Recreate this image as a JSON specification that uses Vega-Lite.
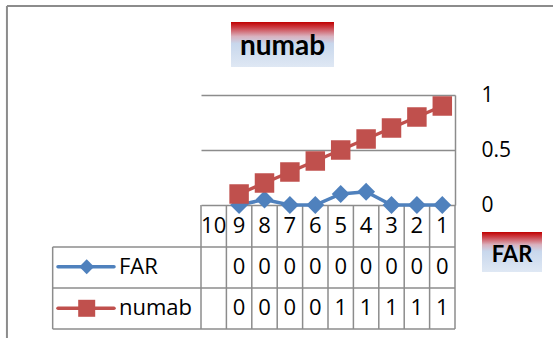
{
  "$schema": "https://vega.github.io/schema/vega-lite/v6.json",
  "width": 254,
  "height": 110,
  "autosize": {"type": "none"},
  "padding": {"left": 201, "top": 95, "right": 98, "bottom": 133},
  "background": "white",
  "config": {"view": {"stroke": null}, "font": "Open Sans"},
  "data": {"values": [{}]},
  "datasets": {
    "points": [
      {"cat": 9, "series": "FAR", "value": 0},
      {"cat": 8, "series": "FAR", "value": 0.05},
      {"cat": 7, "series": "FAR", "value": 0},
      {"cat": 6, "series": "FAR", "value": 0},
      {"cat": 5, "series": "FAR", "value": 0.1},
      {"cat": 4, "series": "FAR", "value": 0.12},
      {"cat": 3, "series": "FAR", "value": 0},
      {"cat": 2, "series": "FAR", "value": 0},
      {"cat": 1, "series": "FAR", "value": 0},
      {"cat": 9, "series": "numab", "value": 0.1},
      {"cat": 8, "series": "numab", "value": 0.2},
      {"cat": 7, "series": "numab", "value": 0.3},
      {"cat": 6, "series": "numab", "value": 0.4},
      {"cat": 5, "series": "numab", "value": 0.5},
      {"cat": 4, "series": "numab", "value": 0.6},
      {"cat": 3, "series": "numab", "value": 0.7},
      {"cat": 2, "series": "numab", "value": 0.8},
      {"cat": 1, "series": "numab", "value": 0.9}
    ],
    "categories": [
      {"cat": 10}, {"cat": 9}, {"cat": 8}, {"cat": 7}, {"cat": 6},
      {"cat": 5}, {"cat": 4}, {"cat": 3}, {"cat": 2}, {"cat": 1}
    ]
  },
  "resolve": {"axis": {"x": "independent", "y": "independent"}},
  "layer": [
    {
      "description": "Outer frame of the chart area: top and left edges",
      "mark": {"type": "rule", "color": "#8c8c8c", "strokeWidth": 2},
      "encoding": {
        "x": {"datum": 18.14, "axis": null},
        "x2": {"datum": -3.4},
        "y": {"datum": 1.809, "axis": null}
      }
    },
    {
      "mark": {"type": "rule", "color": "#8c8c8c", "strokeWidth": 2},
      "encoding": {
        "x": {"datum": 18.14, "axis": null},
        "y": {"datum": 1.809, "axis": null},
        "y2": {"datum": -1.25}
      }
    },
    {
      "description": "Chart title box with a red-to-blue gradient",
      "mark": {
        "type": "rect",
        "fill": {
          "gradient": "linear", "x1": 0, "y1": 0, "x2": 0, "y2": 1,
          "stops": [
            {"offset": 0, "color": "#c00000"},
            {"offset": 0.12, "color": "#cc3d44"},
            {"offset": 0.32, "color": "#d9b2bf"},
            {"offset": 0.48, "color": "#c8d7ec"},
            {"offset": 1, "color": "#dfe8f4"}
          ]
        }
      },
      "encoding": {
        "x": {"datum": 9.319, "axis": null},
        "x2": {"datum": 5.264},
        "y": {"datum": 1.6636, "axis": null},
        "y2": {"datum": 1.2545}
      }
    },
    {
      "mark": {"type": "text", "text": "numab", "font": "Lato", "fontWeight": "bold", "fontSize": 28, "align": "center", "baseline": "alphabetic", "color": "black"},
      "encoding": {
        "x": {"datum": 7.291, "axis": null},
        "y": {"datum": 1.3636, "axis": null}
      }
    },
    {
      "description": "Axis title box for the secondary axis",
      "mark": {
        "type": "rect",
        "fill": {
          "gradient": "linear", "x1": 0, "y1": 0, "x2": 0, "y2": 1,
          "stops": [
            {"offset": 0, "color": "#c00000"},
            {"offset": 0.12, "color": "#cc3d44"},
            {"offset": 0.32, "color": "#d9b2bf"},
            {"offset": 0.48, "color": "#c8d7ec"},
            {"offset": 1, "color": "#dfe8f4"}
          ]
        }
      },
      "encoding": {
        "x": {"datum": -0.563, "axis": null},
        "x2": {"datum": -2.925},
        "y": {"datum": -0.2455, "axis": null},
        "y2": {"datum": -0.609}
      }
    },
    {
      "mark": {"type": "text", "text": "FAR", "font": "Lato", "fontWeight": "bold", "fontSize": 22, "align": "center", "baseline": "alphabetic", "color": "black"},
      "encoding": {
        "x": {"datum": -1.744, "axis": null},
        "y": {"datum": -0.521, "axis": null}
      }
    },
    {
      "description": "Data table: horizontal rules",
      "mark": {"type": "rule", "color": "#8c8c8c", "strokeWidth": 1.5},
      "encoding": {
        "x": {"datum": 16.34, "axis": null},
        "x2": {"datum": 0.5},
        "y": {"datum": -0.3818, "axis": null}
      }
    },
    {
      "mark": {"type": "rule", "color": "#8c8c8c", "strokeWidth": 1.5},
      "encoding": {
        "x": {"datum": 16.34, "axis": null},
        "x2": {"datum": 0.5},
        "y": {"datum": -0.7545, "axis": null}
      }
    },
    {
      "mark": {"type": "rule", "color": "#8c8c8c", "strokeWidth": 1.5},
      "encoding": {
        "x": {"datum": 16.34, "axis": null},
        "x2": {"datum": 0.5},
        "y": {"datum": -1.127, "axis": null}
      }
    },
    {
      "description": "Data table: left edge of the legend column and right edge of the table",
      "mark": {"type": "rule", "color": "#8c8c8c", "strokeWidth": 1.5},
      "encoding": {
        "x": {"datum": 16.34, "axis": null},
        "y": {"datum": -0.3818, "axis": null},
        "y2": {"datum": -1.127}
      }
    },
    {
      "mark": {"type": "rule", "color": "#8c8c8c", "strokeWidth": 1.5},
      "encoding": {
        "x": {"datum": 0.5, "axis": null},
        "y": {"datum": 0, "axis": null},
        "y2": {"datum": -1.127}
      }
    },
    {
      "description": "Data table: left edge of every category column",
      "data": {"name": "categories"},
      "transform": [{"calculate": "datum.cat + 0.5", "as": "edge"}],
      "mark": {"type": "rule", "color": "#8c8c8c", "strokeWidth": 1.5},
      "encoding": {
        "x": {"field": "edge", "type": "quantitative", "axis": null},
        "y": {"datum": 0, "axis": null},
        "y2": {"datum": -1.127}
      }
    },
    {
      "description": "Data table: category header row",
      "data": {"name": "categories"},
      "mark": {"type": "text", "font": "Open Sans", "fontSize": 22, "align": "center", "baseline": "middle", "color": "black"},
      "encoding": {
        "x": {"field": "cat", "type": "quantitative", "axis": null},
        "y": {"datum": -0.191, "axis": null},
        "text": {"field": "cat", "type": "nominal"}
      }
    },
    {
      "description": "Data table: FAR row",
      "data": {"name": "points"},
      "transform": [{"filter": "datum.series === 'FAR'"}],
      "mark": {"type": "text", "font": "Open Sans", "fontSize": 22, "align": "center", "baseline": "middle", "color": "black"},
      "encoding": {
        "x": {"field": "cat", "type": "quantitative", "axis": null},
        "y": {"datum": -0.565, "axis": null},
        "text": {"field": "value", "type": "quantitative", "format": ".0f"}
      }
    },
    {
      "description": "Data table: numab row",
      "data": {"name": "points"},
      "transform": [{"filter": "datum.series === 'numab'"}],
      "mark": {"type": "text", "font": "Open Sans", "fontSize": 22, "align": "center", "baseline": "middle", "color": "black"},
      "encoding": {
        "x": {"field": "cat", "type": "quantitative", "axis": null},
        "y": {"datum": -0.94, "axis": null},
        "text": {"field": "value", "type": "quantitative", "format": ".0f"}
      }
    },
    {
      "description": "Legend keys inside the data table",
      "mark": {"type": "rule", "color": "#4f81bd", "strokeWidth": 3.5, "strokeCap": "round"},
      "encoding": {
        "x": {"datum": 16.13, "axis": null},
        "x2": {"datum": 13.925},
        "y": {"datum": -0.561, "axis": null}
      }
    },
    {
      "mark": {"type": "point", "shape": "diamond", "filled": true, "size": 220, "color": "#4f81bd", "opacity": 1},
      "encoding": {
        "x": {"datum": 15.0, "axis": null},
        "y": {"datum": -0.561, "axis": null}
      }
    },
    {
      "mark": {"type": "text", "text": "FAR", "font": "Open Sans", "fontSize": 22, "align": "left", "baseline": "middle", "color": "black"},
      "encoding": {
        "x": {"datum": 13.728, "axis": null},
        "y": {"datum": -0.565, "axis": null}
      }
    },
    {
      "mark": {"type": "rule", "color": "#c0504d", "strokeWidth": 3.5, "strokeCap": "round"},
      "encoding": {
        "x": {"datum": 16.13, "axis": null},
        "x2": {"datum": 13.925},
        "y": {"datum": -0.939, "axis": null}
      }
    },
    {
      "mark": {"type": "point", "shape": "square", "filled": true, "size": 289, "color": "#c0504d", "opacity": 1},
      "encoding": {
        "x": {"datum": 15.0, "axis": null},
        "y": {"datum": -0.939, "axis": null}
      }
    },
    {
      "mark": {"type": "text", "text": "numab", "font": "Open Sans", "fontSize": 22, "align": "left", "baseline": "middle", "color": "black"},
      "encoding": {
        "x": {"datum": 13.728, "axis": null},
        "y": {"datum": -0.94, "axis": null}
      }
    },
    {
      "description": "FAR series line, carrying the shared scales and the right-hand value axis",
      "data": {"name": "points"},
      "transform": [{"filter": "datum.series === 'FAR'"}],
      "mark": {"type": "line", "color": "#4f81bd", "strokeWidth": 3.5},
      "encoding": {
        "x": {"field": "cat", "type": "quantitative", "axis": null,
              "scale": {"domain": [0.5, 10.5], "reverse": true, "nice": false, "zero": false}},
        "y": {"field": "value", "type": "quantitative",
              "scale": {"domain": [0, 1], "nice": false, "zero": false},
              "axis": {"orient": "right", "values": [0, 0.5, 1], "format": "~g", "title": null,
                       "grid": true, "gridColor": "#8c8c8c", "gridWidth": 1.5,
                       "domain": true, "domainColor": "#8c8c8c", "domainWidth": 1.5,
                       "ticks": false, "labelPadding": 26, "labelFont": "Open Sans",
                       "labelFontSize": 21, "labelColor": "black", "labelFlush": false}}
      }
    },
    {
      "data": {"name": "points"},
      "transform": [{"filter": "datum.series === 'FAR'"}],
      "mark": {"type": "point", "shape": "diamond", "filled": true, "size": 320, "color": "#4f81bd", "opacity": 1},
      "encoding": {
        "x": {"field": "cat", "type": "quantitative", "axis": null},
        "y": {"field": "value", "type": "quantitative", "axis": null}
      }
    },
    {
      "description": "numab series line and square markers",
      "data": {"name": "points"},
      "transform": [{"filter": "datum.series === 'numab'"}],
      "mark": {"type": "line", "color": "#c0504d", "strokeWidth": 3.5},
      "encoding": {
        "x": {"field": "cat", "type": "quantitative", "axis": null},
        "y": {"field": "value", "type": "quantitative", "axis": null}
      }
    },
    {
      "data": {"name": "points"},
      "transform": [{"filter": "datum.series === 'numab'"}],
      "mark": {"type": "point", "shape": "square", "filled": true, "size": 380, "color": "#c0504d", "opacity": 1},
      "encoding": {
        "x": {"field": "cat", "type": "quantitative", "axis": null},
        "y": {"field": "value", "type": "quantitative", "axis": null}
      }
    }
  ]
}
